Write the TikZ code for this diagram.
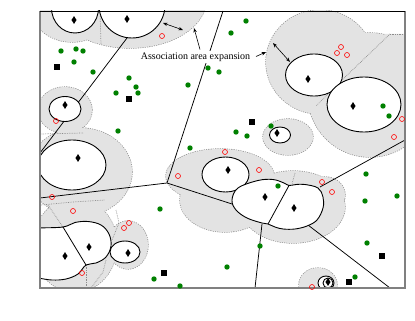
\documentclass[tikz,border=0pt]{standalone}
\usepackage{fontspec}
\setmainfont{Liberation Serif}
\usetikzlibrary{shapes.geometric,arrows.meta}
\definecolor{areagray}{gray}{0.89}
\definecolor{dotgray}{gray}{0.55}
\definecolor{dgreen}{RGB}{0,128,0}
\definecolor{framegray}{gray}{0.5}
\tikzset{
  outerarea/.style={fill=areagray},
  outerrim/.style={draw=dotgray, densely dotted, line width=1.3pt},
  vline/.style={draw=black, line width=0.75pt},
  vdot/.style={draw=dotgray, densely dotted, line width=0.7pt},
  innerarea/.style={draw=black, line width=0.9pt, fill=white},
  bs/.style={diamond, fill=black, inner sep=0pt, minimum width=5.2pt, minimum height=8pt},
  ue/.style={circle, fill=dgreen, inner sep=0pt, minimum size=5.4pt},
  ring/.style={circle, draw=red, line width=0.6pt, inner sep=0pt, minimum size=5pt},
  sq/.style={rectangle, fill=black, inner sep=0pt, minimum size=5.5pt},
  lab/.style={fill=white, inner sep=1.5pt, font=\fontsize{10}{12}\selectfont},
  arr/.style={line width=0.6pt, -{Stealth[length=4.5pt,width=3.4pt]}},
  darr/.style={line width=0.6pt, {Stealth[length=4.5pt,width=3.4pt]}-{Stealth[length=4.5pt,width=3.4pt]}}
}
\newcommand{\outerlist}{%
  (72,5) ellipse [x radius=42pt, y radius=37pt]
  (130,0) ellipse [x radius=76pt, y radius=48pt]
  (65,110) ellipse [x radius=27pt, y radius=23pt]
  (80,172) ellipse [x radius=52pt, y radius=44pt]
  (75,245) ellipse [x radius=42pt, y radius=47pt]
  (128,245) ellipse [x radius=20pt, y radius=24pt]
  (220,176) ellipse [x radius=54pt, y radius=27pt]
  (293,207) ellipse [x radius=52pt, y radius=36pt]
  (325,195) ellipse [x radius=20pt, y radius=18pt]
  (225,200) ellipse [x radius=45pt, y radius=32pt]
  (288,137) ellipse [x radius=25pt, y radius=18pt]
  (320,62) ellipse [x radius=54pt, y radius=52pt]
  (370,95) ellipse [x radius=62pt, y radius=62pt]
  (318,285) ellipse [x radius=19pt, y radius=17pt]}
\begin{document}
\begin{tikzpicture}[x=1pt,y=-1pt]
\useasboundingbox (0,0) rectangle (415,321);
\begin{scope}
  \clip (40,11) rectangle (405,288);
  % association areas (expanded)
  \path[outerrim] \outerlist;
  \path[outerarea] \outerlist;
  \fill[areagray] (385,34) -- (405,34) -- (405,70) -- (360,70) -- cycle;
  % dotted borders between areas
  \draw[vdot] (390,34) -- (405,34);
  \draw[vdot] (100,11) -- (101,44);
  \draw[vdot] (40,134) -- (83,133);
  \draw[vdot] (390,34) -- (342,80) -- (316,106);
  \draw[vdot] (41,205) -- (73,202) -- (105,200);
  \draw[vdot] (48,205) -- (63,227);
  \draw[vdot] (116,210) -- (119,223) -- (112,240);
  \draw[vdot] (106,260) -- (103,272) -- (91,288);
  \draw[vdot] (86,265) -- (86,288);
  \draw[vdot] (295,173) -- (292,184);
  % cell borders
  \coordinate (v1) at (167,183);
  \draw[vline] (127,38) -- (40,153);
  \draw[vline] (223,11) -- (v1);
  \draw[vline] (40,198) -- (v1);
  \draw[vline] (v1) -- (232,204);
  \draw[vline] (262,224) -- (255,288);
  \draw[vline] (308,225) -- (390,288);
  \draw[vline] (320,187) -- (405,140);
  % cell areas
  \path[innerarea] (75,8) ellipse [x radius=23.5pt, y radius=25pt];
  \path[innerarea] (132,5) ellipse [x radius=33pt, y radius=33pt];
  \path[innerarea] (65,109) ellipse [x radius=16pt, y radius=12.5pt];
  \path[innerarea] (72,165) ellipse [x radius=34pt, y radius=25pt];
  \path[innerarea] (280,135) ellipse [x radius=10.5pt, y radius=8pt];
  \path[innerarea] (314,75) ellipse [x radius=28.5pt, y radius=21pt];
  \path[innerarea] (364,104.5) ellipse [x radius=37pt, y radius=27.5pt];
  \path[innerarea] (225.5,174.5) ellipse [x radius=23.5pt, y radius=17.5pt];
  \path[innerarea] plot[smooth cycle, tension=0.6] coordinates {(232,200) (238,188) (258,180.5) (273,179.5) (284,183) (289,185.5) (296,184.5) (305,184.5) (318,188) (323,197) (323,208) (317,220) (307,226) (295,229) (283,229) (275,227) (268,224) (262,223) (247,218) (236,210)};
  \draw[vline, line width=0.8pt] (289,185.5) -- (268,224);
  \path[innerarea] plot[smooth cycle, tension=0.6] coordinates {(30,229) (38,228) (63,227) (75,222.5) (88,221.5) (101,225) (109,234) (111,246) (106,257) (96,263) (86,265) (78,274) (66,279) (52,280) (38,278) (30,277)};
  \draw[vline, line width=0.8pt] (63,227) -- (86,265);
  \path[innerarea] (125,252) ellipse [x radius=15pt, y radius=11pt];
  \path[innerarea] (326,283) ellipse [x radius=8pt, y radius=7pt];
  \draw[black, line width=0.9pt] (328,283) ellipse [x radius=5pt, y radius=5pt];
\end{scope}
% frame
\draw[framegray, line width=1.5pt] (40,11) -- (40,288) -- (405,288) -- (405,11);
\draw[black, line width=0.7pt] (40,11) -- (405,11);
% label and arrows
\node[lab] (lab) at (195.5,57) {Association area expansion};
\coordinate (t1) at (200,49.5);
\coordinate (h1) at (194,28);
\coordinate (d1a) at (163,23);
\coordinate (d1b) at (183,30);
\coordinate (t3) at (256,56.5);
\coordinate (h3) at (266,52);
\coordinate (d2a) at (273,43);
\coordinate (d2b) at (290,62);
\draw[arr] (t1) -- (h1);
\draw[darr] (d1a) -- (d1b);
\draw[arr] (t3) -- (h3);
\draw[darr] (d2a) -- (d2b);
% base stations
\foreach \p [count=\i] in {(74,20),(127,19),(65,105),(78,158),(277,133),(308,79),(353,106),(228,170),(265,197),(294,208),(65,256),(89,247),(128,253),(328,282)}
  \node[bs] (b\i) at \p {};
% users
\foreach \p [count=\i] in {(61,51),(76,49),(83,51),(74,62),(93,72),(129,78),(136,87),(138,93),(116,93),(118,131),(188,85),(208,68),(219,72),(231,33),(246,21),(190,148),(236,132),(247,136),(271,126),(383,106),(389,116),(278,186),(160,209),(154,279),(180,286),(227,267),(260,246),(366,174),(397,196),(365,201),(367,243),(355,277)}
  \node[ue] (u\i) at \p {};
\foreach \p [count=\i] in {(162,36),(56,121),(341,47),(337,53),(347,55),(402,119),(394,137),(225,152),(178,176),(259,170),(322,182),(332,192),(52,197),(73,211),(124,228),(129,223),(82,273),(312,287)}
  \node[ring] (r\i) at \p {};
\foreach \p [count=\i] in {(57,67),(129,99),(252,122),(164,273),(382,256),(349,282)}
  \node[sq] (s\i) at \p {};
\end{tikzpicture}
\end{document}
